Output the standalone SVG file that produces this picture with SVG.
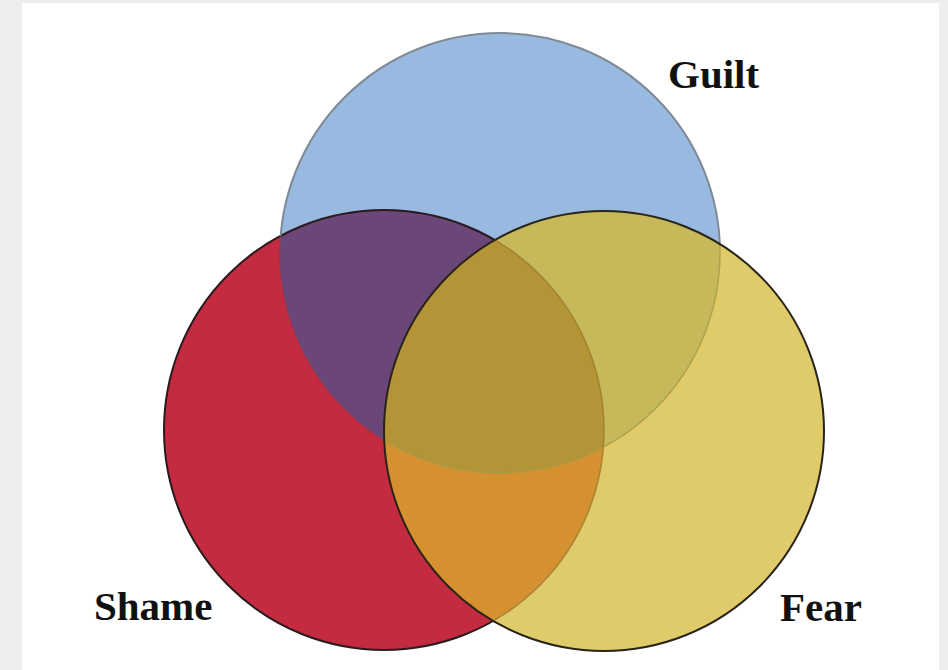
<svg xmlns="http://www.w3.org/2000/svg" width="948" height="670" viewBox="0 0 948 670">
  <style>
    .lbl { font-family: "Liberation Serif", "DejaVu Serif", serif; font-weight: bold; font-size: 41px; fill: #111111; }
  </style>
  <defs>
    <clipPath id="cR"><circle cx="384" cy="430" r="220"/></clipPath>
    <clipPath id="cB"><circle cx="500" cy="253" r="220"/></clipPath>
    <clipPath id="cY"><circle cx="604" cy="431" r="220"/></clipPath>
    <clipPath id="cNotY"><path clip-rule="evenodd" d="M0 0H948V670H0Z M384 431A220 220 0 1 0 824 431A220 220 0 1 0 384 431Z"/></clipPath>
    <clipPath id="cNotR"><path clip-rule="evenodd" d="M0 0H948V670H0Z M164 430A220 220 0 1 0 604 430A220 220 0 1 0 164 430Z"/></clipPath>
  </defs>
  <rect x="0" y="0" width="948" height="670" fill="#eceeec"/>
  <rect x="22" y="3" width="917" height="667" fill="#ffffff"/>

  <g id="fills">
    <g id="shame-circle"><circle cx="384" cy="430" r="220" fill="#c52b40"/></g>
    <g id="guilt-circle"><circle cx="500" cy="253" r="220" fill="#98b9e0"/></g>
    <g id="fear-circle"><circle cx="604" cy="431" r="220" fill="#dfcb6a"/></g>
    <g clip-path="url(#cR)"><circle cx="500" cy="253" r="220" fill="#6b4678"/></g>
    <g clip-path="url(#cB)"><circle cx="604" cy="431" r="220" fill="#c6b95a"/></g>
    <g clip-path="url(#cR)"><circle cx="604" cy="431" r="220" fill="#d5902f"/></g>
    <g clip-path="url(#cR)"><g clip-path="url(#cB)"><circle cx="604" cy="431" r="220" fill="#b39537"/></g></g>
  </g>

  <g id="outlines" fill="none">
    <g clip-path="url(#cNotY)">
      <circle cx="384" cy="430" r="220" stroke="#2a1a1e" stroke-width="2"/>
      <g clip-path="url(#cNotR)">
        <circle cx="500" cy="253" r="220" stroke="#808a96" stroke-width="2"/>
      </g>
      <g clip-path="url(#cR)">
        <circle cx="500" cy="253" r="220" stroke="#7a3a5a" stroke-width="1.5" opacity="0.7"/>
      </g>
    </g>
    <g clip-path="url(#cY)">
      <circle cx="384" cy="430" r="220" stroke="#9a7a2e" stroke-width="1.5" opacity="0.8"/>
      <circle cx="500" cy="253" r="220" stroke="#a89a48" stroke-width="1.5" opacity="0.8"/>
    </g>
    <circle cx="604" cy="431" r="220" stroke="#2a2418" stroke-width="2"/>
  </g>

  <g id="labels">
    <text class="lbl" x="94" y="620">Shame</text>
    <text class="lbl" x="668" y="88">Guilt</text>
    <text class="lbl" x="780" y="621">Fear</text>
  </g>
</svg>
